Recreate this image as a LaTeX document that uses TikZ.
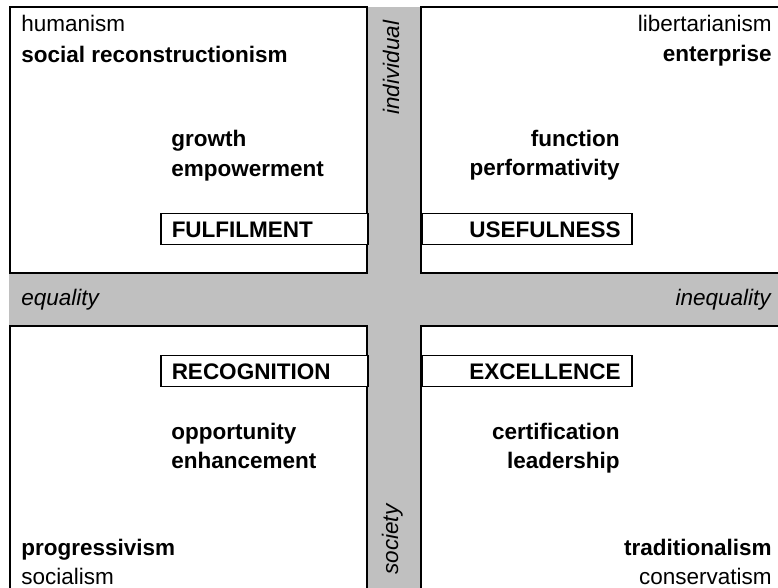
\documentclass[tikz,border=0pt]{standalone}
\usepackage{fontspec}
\setmainfont{Liberation Sans}
\definecolor{band}{RGB}{192,192,192}
\newcommand{\quadfont}{\fontsize{11.25pt}{13pt}\selectfont}

\tikzset{
	quad/.style={draw, fill=white, line width=0.75pt},
	word/.style={inner sep=0pt, font=\quadfont},
	key/.style={word, font=\quadfont\bfseries},
	axis/.style={word, font=\quadfont\itshape},
	tag/.style={draw, fill=white, line width=0.75pt, font=\quadfont\bfseries, minimum height=15.5pt,
		inner xsep=5.5pt, inner ysep=0pt, text width=92.5pt, text height=8pt, text depth=0pt},
	lefttag/.style={tag, align=left},
	righttag/.style={tag, align=right, text width=94pt},
}

\begin{document}
\begin{tikzpicture}[x=0.5pt, y=-0.5pt]
	\path[use as bounding box, clip] (0,0) rectangle (778,588);
	\fill[band] (9,7) rectangle (800,600);
	\draw[quad] (10,7) rectangle (367,273);
	\draw[quad] (421,7) rectangle (800,273);
	\draw[quad] (10,326) rectangle (367,600);
	\draw[quad] (421,326) rectangle (800,600);

	\node[axis, rotate=90, anchor=base west] (indiv) at (399,115) {individual};
	\node[axis, rotate=90, anchor=base west] (soc) at (398,575) {society};
	\node[axis, anchor=base west] (eq) at (21,306) {equality};
	\node[axis, anchor=base east] (ineq) at (771,306) {inequality};

	\node[word, anchor=base west] (hum) at (21,32) {humanism};
	\node[key, anchor=base west] (socrec) at (21,63) {social reconstructionism};
	\node[key, anchor=base west] (grow) at (171,147) {growth};
	\node[key, anchor=base west] (empow) at (171,177) {empowerment};
	\node[lefttag, anchor=north west] (fulfil) at (160,213) {FULFILMENT};

	\node[word, anchor=base east] (lib) at (772,32) {libertarianism};
	\node[key, anchor=base east] (enter) at (772,62) {enterprise};
	\node[key, anchor=base east] (func) at (620,147) {function};
	\node[key, anchor=base east] (perf) at (620,176) {performativity};
	\node[righttag, anchor=north west] (useful) at (421,213) {USEFULNESS};

	\node[lefttag, anchor=north west] (recog) at (160,355) {RECOGNITION};
	\node[key, anchor=base west] (opp) at (171,440) {opportunity};
	\node[key, anchor=base west] (enh) at (171,469) {enhancement};
	\node[key, anchor=base west] (prog) at (21,556) {progressivism};
	\node[word, anchor=base west] (socl) at (21,585) {socialism};

	\node[righttag, anchor=north west] (excel) at (421,355) {EXCELLENCE};
	\node[key, anchor=base east] (cert) at (620,440) {certification};
	\node[key, anchor=base east] (lead) at (620,469) {leadership};
	\node[key, anchor=base east] (trad) at (772,556) {traditionalism};
	\node[word, anchor=base east] (cons) at (772,585) {conservatism};
\end{tikzpicture}
\end{document}
